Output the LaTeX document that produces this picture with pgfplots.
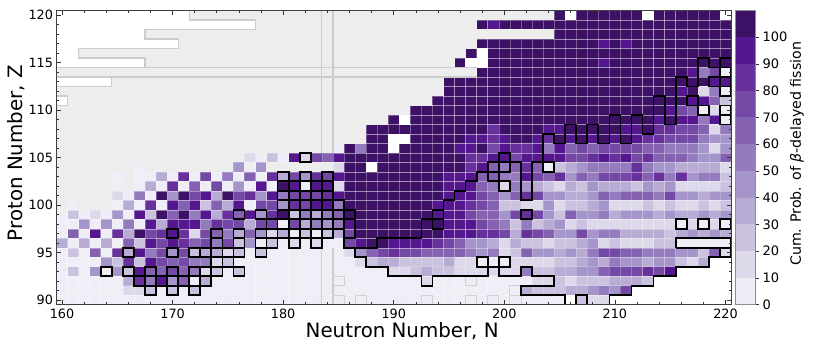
\documentclass[border=0pt]{standalone}
\usepackage{pgfplots}
\usepackage{pgfplotstable}
\pgfplotsset{compat=1.18}
\usepackage{fontspec}
\setmainfont{DejaVu Sans}
\definecolor{c0}{HTML}{EFEDF5}
\definecolor{c1}{HTML}{DDD8EA}
\definecolor{c2}{HTML}{CAC2DF}
\definecolor{c3}{HTML}{B8ACD5}
\definecolor{c4}{HTML}{A695CA}
\definecolor{c5}{HTML}{947BBE}
\definecolor{c6}{HTML}{8462B1}
\definecolor{c7}{HTML}{7449A5}
\definecolor{c8}{HTML}{66319A}
\definecolor{c9}{HTML}{54178F}
\definecolor{c10}{HTML}{3D1266}
\definecolor{cg}{HTML}{EDEDED}
\pgfdeclareplotmark{cell}{\pgfpathrectangle{\pgfqpoint{-5.53pt}{-4.745pt}}{\pgfqpoint{11.06pt}{9.49pt}}\pgfusepathqfillstroke}
\pgfdeclareplotmark{cellf}{\pgfpathrectangle{\pgfqpoint{-5.7pt}{-4.9pt}}{\pgfqpoint{11.4pt}{9.8pt}}\pgfusepathqfill}
\pgfdeclareplotmark{cellb}{\pgfpathrectangle{\pgfqpoint{-5.53pt}{-4.745pt}}{\pgfqpoint{11.06pt}{9.49pt}}\pgfusepathqstroke}
\pgfplotsset{
  glline/.style={mark=none,sharp plot,draw=black!20,line width=1.2pt,line join=miter},
  blline/.style={mark=none,sharp plot,draw=black,line width=1.7pt,line join=miter},
  cellplot/.style={only marks,scatter,scatter src=explicit symbolic,
  scatter/classes={
  0={mark=cell,draw=white,draw opacity=.2,line width=.5pt,fill=c0},
  1={mark=cell,draw=white,draw opacity=.2,line width=.5pt,fill=c1},
  2={mark=cell,draw=white,draw opacity=.2,line width=.5pt,fill=c2},
  3={mark=cell,draw=white,draw opacity=.2,line width=.5pt,fill=c3},
  4={mark=cell,draw=white,draw opacity=.2,line width=.5pt,fill=c4},
  5={mark=cell,draw=white,draw opacity=.2,line width=.5pt,fill=c5},
  6={mark=cell,draw=white,draw opacity=.2,line width=.5pt,fill=c6},
  7={mark=cell,draw=white,draw opacity=.25,line width=.5pt,fill=c7},
  8={mark=cell,draw=white,draw opacity=.25,line width=.5pt,fill=c8},
  9={mark=cell,draw=white,draw opacity=.3,line width=.5pt,fill=c9},
  10={mark=cell,draw=white,draw opacity=.3,line width=.5pt,fill=c10},
  11={mark=cellf,fill=white},
  12={mark=cellf,fill=cg}}}}
% codes: 0-10 bins of 10 %, 11 white (no data), 12 grey (outside)
\pgfplotstableread{
Z 160 161 162 163 164 165 166 167 168 169 170 171 172 173 174 175 176 177 178 179 180 181 182 183 184 185 186 187 188 189 190 191 192 193 194 195 196 197 198 199 200 201 202 203 204 205 206 207 208 209 210 211 212 213 214 215 216 217 218 219 220
120 11 11 11 11 11 11 11 11 11 11 11 11 12 12 12 12 12 12 12 12 12 12 12 12 12 12 12 12 12 12 12 12 12 12 12 12 12 12 12 12 12 12 12 12 12 10 11 10 10 10 10 10 10 11 10 10 10 10 10 10 11
119 11 11 11 11 11 11 11 11 11 11 11 11 11 11 11 11 11 11 12 12 12 12 12 12 12 12 12 12 12 12 12 12 12 12 12 12 12 12 10 9 10 10 10 10 10 10 10 10 10 10 10 10 10 10 10 10 10 10 10 10 10
118 11 11 11 11 11 11 11 11 12 12 12 12 12 12 12 12 12 12 12 12 12 12 12 12 12 12 12 12 12 12 12 12 12 12 12 12 12 12 12 12 12 12 12 12 12 10 10 10 10 10 10 10 10 10 10 10 10 10 10 10 10
117 11 11 11 11 11 11 11 11 11 11 11 12 12 12 12 12 12 12 12 12 12 12 12 12 12 12 12 12 12 12 12 12 12 12 12 12 12 12 10 10 10 10 10 10 10 10 10 10 10 9 10 9 10 10 10 10 10 10 10 10 10
116 11 11 12 12 12 12 12 12 12 12 12 12 12 12 12 12 12 12 12 12 12 12 12 12 12 12 12 12 12 12 12 12 12 12 12 12 12 10 11 10 10 10 10 10 10 10 10 10 10 10 10 10 10 10 10 10 10 10 10 10 10
115 11 11 11 11 11 11 11 11 12 12 12 12 12 12 12 12 12 12 12 12 12 12 12 12 12 12 12 12 12 12 12 12 12 12 12 12 10 11 11 10 10 10 10 10 10 10 10 10 10 9 10 10 10 10 10 10 10 10 10 10 10
114 12 12 12 12 12 12 12 12 12 12 12 12 12 12 12 12 12 12 12 12 12 12 12 12 12 12 12 12 12 12 12 12 12 12 12 12 12 12 10 10 10 10 10 10 10 10 10 10 10 10 10 10 10 10 10 10 10 9 5 7 0
113 11 11 11 11 11 12 12 12 12 12 12 12 12 12 12 12 12 12 12 12 12 12 12 12 12 12 12 12 12 12 12 12 12 12 12 10 10 10 10 10 10 10 10 10 10 10 10 10 10 10 10 10 10 10 10 10 10 10 10 9 9
112 12 12 12 12 12 12 12 12 12 12 12 12 12 12 12 12 12 12 12 12 12 12 12 12 12 12 12 12 12 12 12 12 12 12 12 10 10 10 10 10 10 10 10 10 10 10 10 10 10 10 10 10 10 10 10 10 9 10 1 5 0
111 11 12 12 12 12 12 12 12 12 12 12 12 12 12 12 12 12 12 12 12 12 12 12 12 12 12 12 12 12 12 12 12 12 12 10 10 10 10 10 10 10 10 10 10 10 10 10 10 10 10 10 10 10 10 10 10 10 9 9 6 2
110 12 12 12 12 12 12 12 12 12 12 12 12 12 12 12 12 12 12 12 12 12 12 12 12 12 12 12 12 12 12 12 12 10 10 10 10 10 10 10 10 10 10 10 10 10 10 10 10 10 10 10 10 10 10 10 9 7 6 0 1 0
109 12 12 12 12 12 12 12 12 12 12 12 12 12 12 12 12 12 12 12 12 12 12 12 12 12 12 12 12 12 12 10 11 10 10 10 10 10 10 10 10 10 10 10 10 10 10 10 10 10 10 10 10 10 10 9 10 9 9 5 9 0
108 12 12 12 12 12 12 12 12 12 12 12 12 12 12 12 12 12 12 12 12 12 12 12 12 12 12 12 12 10 10 10 10 10 10 10 10 10 10 10 8 10 10 10 10 9 9 10 10 10 10 10 9 9 10 8 8 7 7 6 1 5
107 12 12 12 12 12 12 12 12 12 12 12 12 12 12 12 12 12 12 12 12 12 12 12 12 12 12 12 12 10 10 11 11 10 10 10 10 10 9 9 8 9 10 10 9 8 10 9 10 9 10 9 10 9 8 8 7 7 7 5 4 4
106 12 12 12 12 12 12 12 12 12 12 12 12 12 12 12 12 12 12 12 12 12 12 12 12 12 0 10 5 10 10 11 10 10 10 10 10 9 9 10 7 9 8 8 9 5 9 6 7 6 7 7 7 7 6 6 5 5 5 4 1 4
105 12 12 12 12 12 12 12 12 12 12 12 12 12 12 12 12 12 1 0 2 0 9 1 7 6 9 10 10 10 10 10 10 10 10 10 10 10 8 8 9 9 7 9 9 9 9 7 7 8 9 8 9 7 8 6 6 6 5 4 4 6
104 12 12 12 12 12 12 12 0 12 12 12 12 12 12 12 12 4 0 4 12 12 12 12 12 12 1 10 10 11 10 10 10 10 10 10 10 10 8 9 6 5 6 8 6 0 2 3 4 5 5 5 5 8 5 4 4 3 3 3 3 1
103 12 12 12 12 12 0 12 0 0 3 0 8 0 7 0 5 0 6 0 8 3 7 4 8 7 9 10 10 10 10 10 10 10 10 10 9 9 9 6 6 5 5 9 7 6 8 4 6 5 7 7 7 8 6 8 5 8 4 5 5 2
102 12 12 12 12 12 0 12 0 3 0 8 0 6 0 7 0 4 0 9 0 10 9 0 9 9 1 10 10 10 10 10 10 10 10 10 9 9 9 6 5 1 5 4 3 2 1 3 2 4 3 3 3 2 4 3 4 1 1 1 1 2
101 12 12 12 12 12 1 0 5 0 10 4 10 7 9 3 10 7 8 4 9 5 7 7 7 8 9 10 10 10 10 10 10 10 10 10 9 9 9 7 6 4 6 8 7 4 4 3 3 4 6 5 6 6 6 5 7 4 4 3 4 4
100 12 0 12 12 12 0 3 0 8 0 9 6 9 2 6 3 9 0 7 7 4 8 7 9 9 5 10 10 10 10 10 10 10 10 9 9 9 8 7 6 2 2 1 1 4 1 2 2 3 4 1 1 1 2 1 2 1 1 2 1 2
99 0 2 0 1 0 4 0 9 2 10 6 10 5 9 3 8 6 9 4 8 10 2 5 3 5 6 10 10 10 10 10 10 10 10 9 9 9 7 6 6 4 7 8 7 4 2 6 4 4 5 3 4 4 4 3 4 3 3 4 3 4
98 0 0 4 0 4 0 5 0 9 3 9 9 9 5 8 7 7 3 7 7 0 7 3 5 4 5 9 10 10 10 10 10 10 10 10 9 9 9 7 6 5 2 5 2 3 4 1 2 1 1 1 1 1 1 1 1 0 1 0 1 0
97 0 6 0 9 0 8 3 10 7 8 9 8 1 7 6 5 3 6 4 1 3 0 2 0 2 3 7 10 10 10 10 10 10 10 10 9 9 9 8 8 7 3 8 7 6 4 4 7 4 5 5 3 3 3 3 2 3 4 3 4 3
96 3 0 3 0 3 0 6 2 9 7 9 8 6 7 5 7 2 4 0 2 0 1 0 1 0 0 7 9 10 10 9 9 9 9 8 7 6 4 4 3 1 3 2 2 1 2 2 3 4 1 2 1 1 1 2 2 0 0 0 0 0
95 0 2 0 6 0 8 3 9 5 7 4 7 2 3 3 1 2 0 2 0 0 0 0 0 0 0 1 4 6 7 8 7 7 6 6 6 6 5 4 5 1 2 6 4 4 3 4 3 5 7 7 6 6 5 5 5 4 4 2 6 1
94 0 0 0 0 4 2 8 2 9 7 6 7 5 5 1 2 0 0 0 0 0 0 0 0 0 0 0 1 2 3 3 2 2 2 2 3 1 1 0 0 0 1 1 1 1 2 2 3 4 3 5 4 4 3 4 4 2 1 3 11 11
93 0 2 0 4 0 4 2 9 6 6 7 6 5 1 2 0 2 0 0 0 0 0 0 0 0 0 0 0 0 0 1 1 2 3 2 2 1 1 1 1 1 1 5 2 2 3 3 4 4 6 7 7 7 8 7 9 11 11 11 11 11
92 0 0 0 0 0 0 3 8 5 9 4 6 0 3 0 0 0 0 0 0 0 0 0 0 0 0 0 0 0 0 0 0 0 1 0 0 0 0 0 0 0 0 0 1 1 2 1 2 2 2 3 3 3 2 11 11 11 11 11 11 11
91 0 0 0 0 0 0 1 1 2 0 2 0 2 0 0 0 0 0 0 0 0 0 0 0 0 0 0 0 0 0 0 0 0 0 0 0 0 0 0 0 0 0 3 2 2 2 3 3 4 5 4 7 11 11 11 11 11 11 11 11 11
90 0 0 0 0 0 0 0 0 0 0 0 0 0 0 0 0 0 0 0 0 0 0 0 0 0 0 0 0 0 0 0 0 0 0 0 0 0 0 0 0 0 0 0 0 0 0 11 2 1 1 11 11 11 11 11 11 11 11 11 11 11
}\rawdata
\pgfplotstabletranspose[colnames from=Z,input colnames to=N]\cells{\rawdata}
\begin{document}
\begin{tikzpicture}
\path[use as bounding box] (0,0) rectangle (817pt,350pt);
\begin{axis}[
  at={(56.5pt,45.3pt)},anchor=south west,
  scale only axis,width=674.5pt,height=294.2pt,
  xmin=159.5,xmax=220.5,ymin=89.5,ymax=120.5,
  clip mode=individual,
  xtick={160,170,...,220},ytick={90,95,...,120},
  minor x tick num=4,minor y tick num=4,
  tick align=inside,tick pos=both,
  major tick length=4.5pt,minor tick length=2.5pt,
  every tick/.style={black!80,line width=.7pt},
  axis line style={black!75,line width=.9pt},
  axis on top,
  /pgf/number format/assume math mode=true,
  /pgf/number format/1000 sep={},
  tick label style={font=\fontsize{12.8}{12.8}\selectfont},
  xlabel={Neutron Number, N},ylabel={Proton Number, Z},
  label style={font=\fontsize{19.8}{19.8}\selectfont},
  xticklabel style={yshift=-1pt},
  x label style={at={(axis description cs:0.5125,0)},anchor=north,yshift=-14pt},
  y label style={at={(axis description cs:0,0.515)},anchor=south,yshift=28pt},
]
\foreach \z in {90,...,120}{
  \addplot[cellplot] table[x=N,y expr=\z,meta=\z]{\cells};
}
% outlines of the no-data rows and magic-number bands
\addplot[glline] coordinates {(171.5,120.5)(171.5,119.5)(177.5,119.5)(177.5,118.5)(167.5,118.5)(167.5,117.5)(170.5,117.5)(170.5,116.5)(161.5,116.5)(161.5,115.5)(167.5,115.5)(167.5,114.5)(197.5,114.5)};
\addplot[glline] coordinates {(159.5,113.5)(197.5,113.5)};
\addplot[glline] coordinates {(159.5,114.5)(167.5,114.5)};
\addplot[glline] coordinates {(164.5,113.5)(164.5,112.5)(159.5,112.5)};
\addplot[glline] coordinates {(159.5,111.5)(160.5,111.5)(160.5,110.5)(159.5,110.5)};
\addplot[glline] coordinates {(183.5,120.5)(183.5,105.5)};
\addplot[glline] coordinates {(184.5,120.5)(184.5,105.5)};
\addplot[glline] coordinates {(183.5,95.5)(183.5,89.5)};
\addplot[glline] coordinates {(184.5,95.5)(184.5,89.5)};
\addplot[only marks,mark=cellb,mark options={draw=black!18,line width=.8pt}] coordinates {(185,92)(185,90)(187,90)(193,90)(197,92)(197,90)(199,90)(201,91)(201,90)};
% black squares
\addplot[only marks,mark=cellb,mark options={draw=black,line width=1.7pt,line join=miter}] coordinates {
(168,91)(170,91)(172,91)
(167,92)(168,92)(169,92)(170,92)(171,92)(172,92)(173,92)
(164,93)(166,93)(168,93)(170,93)(172,93)(173,93)(174,93)(176,93)
(174,94)(175,94)
(166,95)(170,95)(172,95)(173,95)(174,95)(175,95)(176,95)(178,95)
(174,96)(176,96)(178,96)(179,96)(181,96)(183,96)
(170,97)(174,97)(176,97)(178,97)(179,97)(180,97)(181,97)(182,97)(183,97)(184,97)
(179,98)(180,98)(181,98)(182,98)(183,98)(184,98)(185,98)
(176,99)(178,99)(180,99)(181,99)(182,99)(183,99)(184,99)(185,99)(186,99)
(180,100)(181,100)(182,100)(183,100)(184,100)(185,100)
(180,101)(181,101)(182,101)(183,101)(184,101)
(180,102)(181,102)(182,102)(183,102)(184,102)
(180,103)(182,103)(184,103)(182,105)
(194,98)(194,99)(199,103)(199,104)(200,102)(200,104)(200,105)(204,104)(202,99)
(198,94)(200,94)(216,98)(218,98)(220,98)(220,95)
(220,109)(220,110)(218,110)(217,111)(220,112)(219,113)(220,113)(220,114)};
\addplot[blline] coordinates {(186.5,99.5)(186.5,96.5)(185.5,96.5)};
\addplot[blline] coordinates {(185.5,98.5)(185.5,95.5)(188.5,95.5)(188.5,96.5)(192.5,96.5)(192.5,98.5)(193.5,98.5)(193.5,99.5)(194.5,99.5)(194.5,100.5)(195.5,100.5)(195.5,101.5)(196.5,101.5)(196.5,102.5)(197.5,102.5)(197.5,103.5)(198.5,103.5)(198.5,104.5)(201.5,104.5)(201.5,100.5)(202.5,100.5)(202.5,104.5)(203.5,104.5)(203.5,107.5)(204.5,107.5)(204.5,106.5)(205.5,106.5)(205.5,108.5)(206.5,108.5)(206.5,106.5)(207.5,106.5)(207.5,108.5)(208.5,108.5)(208.5,106.5)(209.5,106.5)(209.5,109.5)(210.5,109.5)(210.5,106.5)(211.5,106.5)(211.5,109.5)(212.5,109.5)(212.5,107.5)(213.5,107.5)(213.5,111.5)(214.5,111.5)(214.5,108.5)(215.5,108.5)(215.5,113.5)(216.5,113.5)(216.5,112.5)(217.5,112.5)(217.5,115.5)(218.5,115.5)(218.5,114.5)(219.5,114.5)(219.5,115.5)(220.5,115.5)};
\addplot[blline] coordinates {(186.5,95.5)(186.5,94.5)(187.5,94.5)(187.5,93.5)(189.5,93.5)(189.5,92.5)(192.5,92.5)(192.5,91.5)(193.5,91.5)(193.5,92.5)(198.5,92.5)(198.5,93.5)(199.5,93.5)(199.5,92.5)(201.5,92.5)(201.5,93.5)(202.5,93.5)(202.5,92.5)(204.5,92.5)(204.5,91.5)(201.5,91.5)(201.5,90.5)(205.5,90.5)(205.5,89.5)};
\addplot[blline] coordinates {(206.5,89.5)(206.5,90.5)(207.5,90.5)(207.5,89.5)};
\addplot[blline] coordinates {(209.5,89.5)(209.5,90.5)(211.5,90.5)(211.5,91.5)(213.5,91.5)(213.5,92.5)(215.5,92.5)(215.5,93.5)(218.5,93.5)(218.5,94.5)(220.5,94.5)};
\addplot[blline] coordinates {(215.5,95.5)(220.5,95.5)(220.5,96.5)(215.5,96.5)(215.5,95.5)};
\end{axis}
\begin{axis}[
  at={(735pt,45.3pt)},anchor=south west,
  scale only axis,width=20pt,height=294.2pt,
  xmin=0,xmax=1,ymin=0,ymax=110,
  xtick=\empty,ytick={0,10,...,100},
  ytick pos=right,yticklabel pos=right,
  tick align=outside,major tick length=4pt,
  every tick/.style={black!80,line width=.7pt},
  axis line style={black!45,line width=.6pt},
  axis on top,
  /pgf/number format/assume math mode=true,
  tick label style={font=\fontsize{13}{13}\selectfont},
  ylabel={Cum. Prob. of \textit{β}-delayed fission},
  y label style={font=\fontsize{14.2}{14.2}\selectfont,at={(axis description cs:3.1,0.513)},anchor=center},
]
\addplot[fill=c0,draw=none] coordinates {(0,0)(1,0)(1,10)(0,10)} --cycle;
\addplot[fill=c1,draw=none] coordinates {(0,10)(1,10)(1,20)(0,20)} --cycle;
\addplot[fill=c2,draw=none] coordinates {(0,20)(1,20)(1,30)(0,30)} --cycle;
\addplot[fill=c3,draw=none] coordinates {(0,30)(1,30)(1,40)(0,40)} --cycle;
\addplot[fill=c4,draw=none] coordinates {(0,40)(1,40)(1,50)(0,50)} --cycle;
\addplot[fill=c5,draw=none] coordinates {(0,50)(1,50)(1,60)(0,60)} --cycle;
\addplot[fill=c6,draw=none] coordinates {(0,60)(1,60)(1,70)(0,70)} --cycle;
\addplot[fill=c7,draw=none] coordinates {(0,70)(1,70)(1,80)(0,80)} --cycle;
\addplot[fill=c8,draw=none] coordinates {(0,80)(1,80)(1,90)(0,90)} --cycle;
\addplot[fill=c9,draw=none] coordinates {(0,90)(1,90)(1,100)(0,100)} --cycle;
\addplot[fill=c10,draw=none] coordinates {(0,100)(1,100)(1,110)(0,110)} --cycle;
\end{axis}
\end{tikzpicture}
\end{document}
